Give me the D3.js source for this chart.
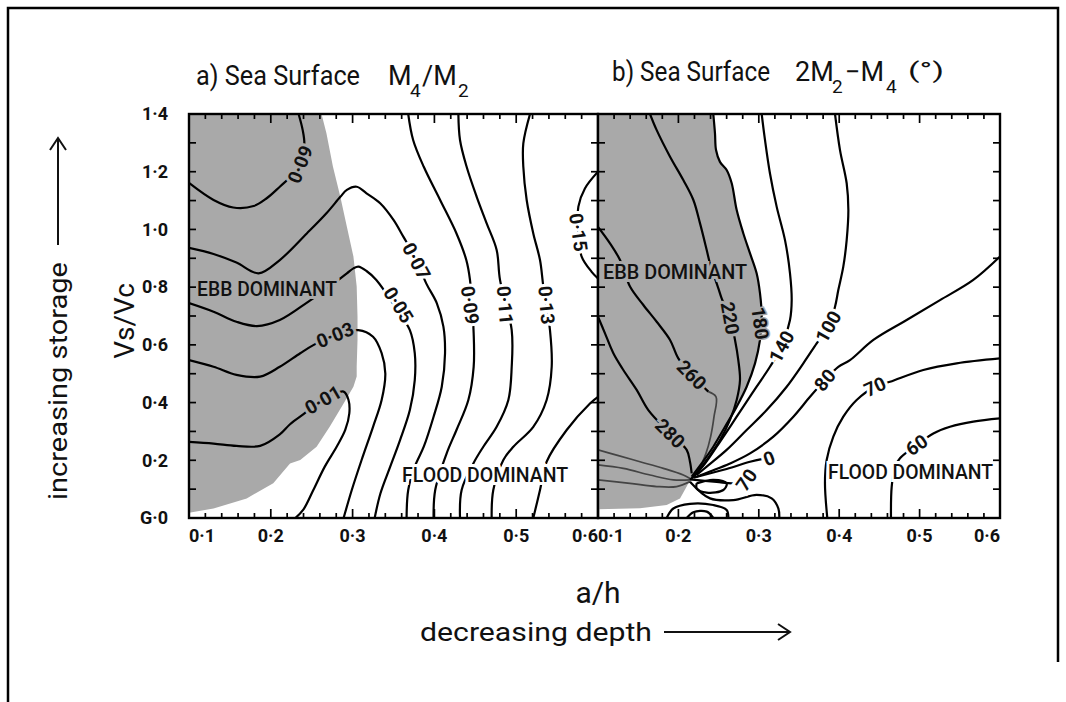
<!DOCTYPE html>
<html><head><meta charset="utf-8">
<script src="https://cdn.jsdelivr.net/npm/d3@7"></script>
<style>body{margin:0;background:#fff} text{font-family:Roboto,"DejaVu Sans",sans-serif;fill:#111}</style>
</head><body>
<svg id="c" width="1066" height="702"></svg>
<script>
// ---------- tick values / labels ----------
const xTickValues = [0.1,0.2,0.3,0.4,0.5,0.6];
const xTickLabels = ["0·1","0·2","0·3","0·4","0·5","0·6"];
const yTickValues = [0,0.2,0.4,0.6,0.8,1.0,1.2,1.4];
const yTickLabels = ["G·0","0·2","0·4","0·6","0·8","1·0","1·2","1·4"];
const xMinorTicks = [0.1,0.12,0.14,0.16,0.18,0.2,0.22,0.24,0.26,0.28,0.3,0.32,0.34,0.36,0.38,0.4,0.42,0.44,0.46,0.48,0.5,0.52,0.54,0.56,0.58,0.6];
const yMinorTicks = [0.1,0.2,0.3,0.4,0.5,0.6,0.7,0.8,0.9,1.0,1.1,1.2,1.3];

// ---------- panel a : M4/M2 ----------
const aShade = [[0.1,1.4],[0.262,1.4],[0.268,1.333],[0.276,1.217],[0.285,1.113],[0.293,1.009],[0.301,0.906],[0.305,0.802],[0.306,0.698],[0.306,0.617],[0.305,0.524],[0.305,0.490],[0.301,0.455],[0.289,0.397],[0.272,0.316],[0.256,0.247],[0.236,0.201],[0.2235,0.189],[0.203,0.120],[0.1705,0.068],[0.130,0.033],[0.1,0.018]];
const a009 = [[0.234,1.4],[0.239,1.344],[0.241,1.298],[0.238,1.246],[0.228,1.194],[0.211,1.148],[0.195,1.108],[0.179,1.081],[0.154,1.076],[0.130,1.102],[0.100,1.161]];
const a007 = [[0.100,0.936],[0.130,0.915],[0.158,0.885],[0.185,0.848],[0.211,0.894],[0.244,0.986],[0.268,1.056],[0.285,1.113],[0.293,1.137],[0.305,1.148],[0.317,1.125],[0.334,1.090],[0.350,1.033],[0.362,0.975],[0.376,0.906],[0.390,0.813],[0.403,0.744],[0.411,0.663],[0.413,0.571],[0.409,0.455],[0.399,0.351],[0.387,0.247],[0.376,0.178],[0.368,0.097],[0.366,0.0]];
const a005 = [[0.100,0.745],[0.130,0.715],[0.158,0.680],[0.183,0.665],[0.211,0.686],[0.246,0.750],[0.272,0.802],[0.293,0.848],[0.301,0.865],[0.307,0.871],[0.317,0.856],[0.329,0.825],[0.352,0.732],[0.370,0.651],[0.376,0.571],[0.376,0.478],[0.370,0.374],[0.358,0.270],[0.346,0.178],[0.334,0.085],[0.327,0.0]];
const a003 = [[0.100,0.547],[0.130,0.524],[0.158,0.496],[0.187,0.490],[0.211,0.524],[0.236,0.571],[0.252,0.599],[0.279,0.634],[0.307,0.651],[0.325,0.628],[0.3355,0.571],[0.340,0.501],[0.3355,0.409],[0.325,0.316],[0.311,0.201],[0.299,0.097],[0.289,0.0]];
const a001 = [[0.100,0.264],[0.130,0.258],[0.158,0.250],[0.187,0.250],[0.211,0.290],[0.2235,0.325],[0.240,0.360],[0.264,0.409],[0.289,0.438],[0.295,0.409],[0.296,0.363],[0.291,0.305],[0.2805,0.247],[0.266,0.178],[0.252,0.097],[0.240,0.030],[0.230,0.0]];
const a009r = [[0.368,1.4],[0.374,1.310],[0.387,1.217],[0.407,1.102],[0.427,0.986],[0.439,0.894],[0.4435,0.825],[0.448,0.640],[0.448,0.524],[0.4415,0.409],[0.427,0.305],[0.415,0.224],[0.401,0.097],[0.399,0.0]];
const a011 = [[0.4293,1.4],[0.4313,1.310],[0.4394,1.217],[0.4517,1.113],[0.4639,1.021],[0.4761,0.929],[0.4802,0.825],[0.4945,0.651],[0.4945,0.524],[0.4904,0.409],[0.4761,0.316],[0.4598,0.247],[0.4476,0.189],[0.4333,0.097],[0.4313,0.0]];
const a013 = [[0.5169,1.4],[0.5087,1.298],[0.5087,1.217],[0.5128,1.102],[0.5209,0.986],[0.5291,0.894],[0.5332,0.802],[0.5413,0.651],[0.5434,0.524],[0.5372,0.409],[0.5209,0.316],[0.4965,0.247],[0.4843,0.201],[0.4720,0.097],[0.4700,0.0]];
const a015u = [[0.600,1.200],[0.584,1.142],[0.576,1.079],[0.576,0.986],[0.580,0.906],[0.592,0.854],[0.600,0.830]];
const a015l = [[0.5209,0.0],[0.5291,0.097],[0.5372,0.195],[0.5617,0.305],[0.5902,0.397],[0.600,0.420]];
const aLines = [a009,a007,a005,a003,a001,a009r,a011,a013,a015u,a015l];
const aLabels = [
  {t:"0·09",x:0.236,y:1.225,r:-69,shade:true},
  {t:"0·07",x:0.378,y:0.890,r:62,shade:false},
  {t:"0·05",x:0.356,y:0.738,r:58,shade:false},
  {t:"0·03",x:0.2785,y:0.634,r:-22,shade:true},
  {t:"0·01",x:0.264,y:0.409,r:-30,shade:true},
  {t:"0·09",x:0.4435,y:0.738,r:82,shade:false},
  {t:"0·11",x:0.4863,y:0.738,r:85,shade:false},
  {t:"0·13",x:0.537,y:0.738,r:85,shade:false},
  {t:"0·15",x:0.576,y:0.990,r:82,shade:false}
];
const aTexts = [{t:"EBB DOMINANT",x:0.1955,y:0.793,w:140,shade:true},{t:"FLOOD DOMINANT",x:0.462,y:0.149,w:166,shade:false}];

// ---------- panel b : 2M2-M4 phase ----------
const bShade = [[0.100,1.4],[0.2434,1.4],[0.2455,1.333],[0.2468,1.275],[0.2517,1.234],[0.2600,1.206],[0.2663,1.160],[0.2725,1.067],[0.2808,0.986],[0.2891,0.917],[0.2973,0.848],[0.3015,0.778],[0.3036,0.698],[0.3015,0.617],[0.2953,0.536],[0.2849,0.455],[0.2725,0.386],[0.2580,0.316],[0.2434,0.247],[0.2289,0.189],[0.2165,0.143],[0.2103,0.109],[0.2020,0.068],[0.1854,0.045],[0.1522,0.034],[0.100,0.030]];
const b180 = [[0.2434,1.4],[0.2455,1.333],[0.2468,1.275],[0.2517,1.234],[0.2600,1.206],[0.2663,1.160],[0.2725,1.067],[0.2808,0.986],[0.2891,0.917],[0.2973,0.848],[0.3015,0.778],[0.3036,0.698],[0.3015,0.617],[0.2953,0.536],[0.2849,0.455],[0.2725,0.386],[0.2580,0.316],[0.2434,0.247],[0.2289,0.189],[0.2165,0.143]];
const b220 = [[0.1647,1.4],[0.1730,1.344],[0.1896,1.252],[0.2061,1.171],[0.2186,1.102],[0.2269,1.021],[0.2352,0.929],[0.2393,0.882],[0.2497,0.796],[0.2538,0.761],[0.2642,0.692],[0.2704,0.617],[0.2745,0.547],[0.2766,0.478],[0.2725,0.409],[0.2642,0.340],[0.2517,0.270],[0.2352,0.201],[0.2227,0.155],[0.2144,0.132]];
const b140 = [[0.3036,1.4],[0.3077,1.310],[0.3139,1.194],[0.3222,1.079],[0.3326,0.963],[0.3388,0.848],[0.3409,0.755],[0.3388,0.686],[0.3284,0.594],[0.3139,0.524],[0.2973,0.455],[0.2808,0.386],[0.2642,0.316],[0.2476,0.247],[0.2331,0.189],[0.2186,0.143]];
const b100 = [[0.3948,1.4],[0.4010,1.275],[0.4093,1.160],[0.4114,1.067],[0.4093,0.963],[0.4051,0.871],[0.3989,0.790],[0.3948,0.732],[0.3865,0.663],[0.3720,0.605],[0.3554,0.536],[0.3347,0.455],[0.3098,0.374],[0.2849,0.305],[0.2600,0.236],[0.2352,0.178],[0.2227,0.149]];
const b080 = [[0.600,0.906],[0.5668,0.825],[0.5254,0.755],[0.4839,0.686],[0.4425,0.617],[0.4134,0.547],[0.3989,0.524],[0.3823,0.478],[0.3637,0.420],[0.3430,0.351],[0.3181,0.282],[0.2891,0.224],[0.2642,0.189],[0.2393,0.161],[0.2227,0.143]];
const b070 = [[0.600,0.553],[0.5461,0.536],[0.5046,0.513],[0.4632,0.472],[0.4445,0.455],[0.4217,0.409],[0.4051,0.351],[0.3927,0.282],[0.3844,0.201],[0.3823,0.120],[0.3852,0.0]];
const b060 = [[0.600,0.345],[0.5668,0.334],[0.5378,0.316],[0.5171,0.293],[0.4964,0.253],[0.4756,0.207],[0.4694,0.178],[0.4653,0.109],[0.4644,0.0]];
const b260 = [[0.100,1.009],[0.1149,0.952],[0.1274,0.894],[0.1398,0.802],[0.1564,0.738],[0.1730,0.680],[0.1896,0.617],[0.1999,0.553],[0.2165,0.496],[0.2372,0.438]];
const b260g = [[0.2372,0.438],[0.2468,0.420],[0.2443,0.351],[0.2401,0.282],[0.2343,0.224],[0.2248,0.166],[0.2165,0.137]];
const b280 = [[0.100,0.698],[0.1087,0.640],[0.1191,0.571],[0.1315,0.513],[0.1481,0.444],[0.1626,0.374],[0.1896,0.293],[0.2103,0.236],[0.2144,0.195],[0.2165,0.155]];
const bG1 = [[0.100,0.236],[0.1232,0.218],[0.1522,0.195],[0.1813,0.172],[0.2061,0.149],[0.2144,0.137]];
const bG2 = [[0.100,0.184],[0.1315,0.172],[0.1647,0.149],[0.1937,0.132],[0.2144,0.132]];
const bG3 = [[0.100,0.132],[0.1398,0.120],[0.1730,0.109],[0.1978,0.109],[0.2144,0.126]];
const bLoopR = [[0.2144,0.126],[0.2393,0.068],[0.2683,0.062],[0.2973,0.080],[0.3160,0.068],[0.3243,0.033],[0.3255,0.0]];
const bBlob = [[0.2227,0.120],[0.2434,0.132],[0.2600,0.120],[0.2559,0.097],[0.2352,0.088],[0.2227,0.103],[0.2227,0.120]];
const bLoopB = [[0.1854,0.0],[0.1937,0.033],[0.2144,0.049],[0.2434,0.045],[0.2600,0.028],[0.2621,0.0]];
const bLoopS = [[0.2103,0.0],[0.2186,0.020],[0.2352,0.022],[0.2434,0.0]];
const b070s = [[0.2144,0.134],[0.2476,0.125],[0.2683,0.120],[0.2808,0.128]];
const b000 = [[0.2186,0.140],[0.2600,0.170],[0.2891,0.195],[0.3050,0.205]];
const bLines = [b180,b220,b140,b100,b080,b070,b060,b260,b280,bLoopR,bBlob,bLoopB,bLoopS,b070s,b000];
const bGrayLines = [b260g,bG1,bG2,bG3];
const bLabels = [
  {t:"220",x:0.2642,y:0.692,r:80,shade:true},
  {t:"180",x:0.3015,y:0.675,r:82,shade:true},
  {t:"140",x:0.3284,y:0.594,r:-62,shade:false},
  {t:"100",x:0.3865,y:0.663,r:-60,shade:false},
  {t:"80",x:0.3823,y:0.478,r:-50,shade:false},
  {t:"70",x:0.4445,y:0.455,r:-25,shade:false},
  {t:"60",x:0.4964,y:0.253,r:-35,shade:false},
  {t:"260",x:0.2165,y:0.496,r:45,shade:true},
  {t:"280",x:0.1896,y:0.293,r:45,shade:true},
  {t:"70",x:0.2849,y:0.132,r:-55,shade:false},
  {t:"0",x:0.3127,y:0.207,r:-20,shade:false}
];
const bTexts = [{t:"EBB DOMINANT",x:0.1958,y:0.852,w:144,shade:true},{t:"FLOOD DOMINANT",x:0.4887,y:0.161,w:165,shade:false}];

// ---------- drawing ----------
const svg = d3.select("#c");
const SHADE = "#a9a9a9";
const y = d3.scaleLinear().domain([0,1.4]).range([518,114]);
const xA = d3.scaleLinear().domain([0.1,0.6]).range([189,598]);
const xB = d3.scaleLinear().domain([0.1,0.6]).range([598,1000]);

// outer page frame
svg.append("path").attr("d","M8,702 L8,8 L1058,8 L1058,662").attr("fill","none").attr("stroke","#000").attr("stroke-width",2.5);

function panel(id, x, shade, lines, grayLines, labels, texts) {
  const g = svg.append("g");
  g.append("clipPath").attr("id",id).append("rect")
    .attr("x",x(0.1)).attr("y",y(1.4)).attr("width",x(0.6)-x(0.1)).attr("height",y(0)-y(1.4));
  const body = g.append("g").attr("clip-path",`url(#${id})`);
  const area = d3.line().x(d=>x(d[0])).y(d=>y(d[1])).curve(d3.curveLinearClosed);
  body.append("path").attr("d",area(shade)).attr("fill",SHADE);
  const line = d3.line().x(d=>x(d[0])).y(d=>y(d[1])).curve(d3.curveCatmullRom.alpha(0.5));
  grayLines.forEach(l=>body.append("path").attr("d",line(l)).attr("fill","none").attr("stroke","#444").attr("stroke-width",1.7));
  lines.forEach(l=>body.append("path").attr("d",line(l)).attr("fill","none").attr("stroke","#000").attr("stroke-width",2.2));
  labels.forEach(L=>{
    body.append("text").attr("transform",`translate(${x(L.x)},${y(L.y)}) rotate(${L.r})`)
      .attr("text-anchor","middle").attr("dy","0.35em").attr("font-size",19).attr("font-weight",700)
      .attr("stroke",L.shade?SHADE:"#fff").attr("stroke-width",L.t==="180"?3:6).attr("paint-order","stroke")
      .text(L.t);
  });
  texts.forEach(T=>{
    body.append("text").attr("x",x(T.x)).attr("y",y(T.y)).attr("dy","0.35em")
      .attr("text-anchor","middle").attr("font-size",20).attr("font-weight",500)
      .attr("textLength",T.w).attr("lengthAdjust","spacingAndGlyphs")
      .attr("stroke",T.shade?SHADE:"#fff").attr("stroke-width",6).attr("paint-order","stroke")
      .text(T.t);
  });
  // frame
  g.append("rect").attr("x",x(0.1)).attr("y",y(1.4)).attr("width",x(0.6)-x(0.1)).attr("height",y(0)-y(1.4))
    .attr("fill","none").attr("stroke","#000").attr("stroke-width",2.4);
  // bottom / top ticks (inward)
  g.selectAll(null).data(xMinorTicks).join("line")
    .attr("x1",d=>x(d)).attr("x2",d=>x(d)).attr("y1",y(0)).attr("y2",(d,i)=>y(0)-(i%5===0?9:5))
    .attr("stroke","#000").attr("stroke-width",1.7);
  g.selectAll(null).data(xMinorTicks).join("line")
    .attr("x1",d=>x(d)).attr("x2",d=>x(d)).attr("y1",y(1.4)).attr("y2",(d,i)=>y(1.4)+(i%5===0?9:5))
    .attr("stroke","#000").attr("stroke-width",1.7);
  // left / right ticks (inward)
  g.selectAll(null).data(yMinorTicks).join("line")
    .attr("x1",x(0.1)).attr("x2",x(0.1)+7).attr("y1",d=>y(d)).attr("y2",d=>y(d))
    .attr("stroke","#000").attr("stroke-width",1.7);
  g.selectAll(null).data(yMinorTicks).join("line")
    .attr("x1",x(0.6)).attr("x2",x(0.6)-7).attr("y1",d=>y(d)).attr("y2",d=>y(d))
    .attr("stroke","#000").attr("stroke-width",1.7);
  // x tick labels
  g.selectAll(null).data(xTickValues).join("text")
    .attr("x",d=>x(d)).attr("y",542)
    .attr("text-anchor",(d,i)=>i===0?"start":(i===xTickValues.length-1?"end":"middle"))
    .attr("font-size",18).attr("font-weight",700)
    .text((d,i)=>xTickLabels[i]);
}

panel("clipA", xA, aShade, aLines, [], aLabels, aTexts);
panel("clipB", xB, bShade, bLines, bGrayLines, bLabels, bTexts);

// y tick labels
svg.selectAll(null).data(yTickValues).join("text")
  .attr("x",168).attr("y",d=>y(d)).attr("dy","0.35em").attr("text-anchor","end")
  .attr("font-size",18).attr("font-weight",700)
  .text((d,i)=>yTickLabels[i]);

// titles
function piece(xp, yp, s, size, len) {
  const t = svg.append("text").attr("x",xp).attr("y",yp).attr("font-size",size).text(s);
  if (len) t.attr("textLength",len).attr("lengthAdjust","spacingAndGlyphs");
  return t;
}
piece(196, 85, "a) Sea Surface", 27, 164);
piece(388, 85, "M", 27); piece(410, 97, "4", 19); piece(422, 85, "/M", 27); piece(458, 97, "2", 19);
piece(612, 81, "b) Sea Surface", 27, 158);
piece(795, 81, "2M", 27); piece(832, 93, "2", 19); piece(845, 81, "−M", 27); piece(886, 93, "4", 19);
piece(908, 78, "(°)", 22, 36);

// axis titles
svg.append("text").attr("transform","translate(124,321) rotate(-90)").attr("text-anchor","middle")
  .attr("dy","0.35em").attr("font-size",28).text("Vs/Vc");
svg.append("text").attr("transform","translate(58,500) rotate(-90)").attr("text-anchor","start")
  .attr("dy","0.35em").attr("font-size",25).attr("textLength",238).attr("lengthAdjust","spacingAndGlyphs").text("increasing storage");
svg.append("path").attr("d","M58,245 L58,138 M50,150 L58,138 L66,150").attr("fill","none").attr("stroke","#111").attr("stroke-width",2);

svg.append("text").attr("x",598).attr("y",592).attr("text-anchor","middle").attr("dy","0.35em")
  .attr("font-size",30).text("a/h");
svg.append("text").attr("x",420).attr("y",632).attr("dy","0.35em").attr("font-size",26)
  .attr("textLength",232).attr("lengthAdjust","spacingAndGlyphs").text("decreasing depth");
svg.append("path").attr("d","M664,632 L790,632 M778,624 L790,632 L778,640").attr("fill","none").attr("stroke","#111").attr("stroke-width",2);
</script>
</body></html>
